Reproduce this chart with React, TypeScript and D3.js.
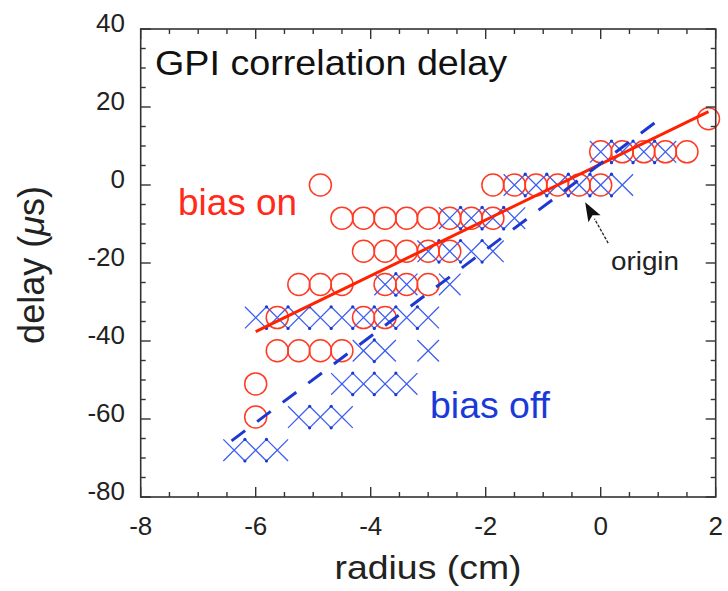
import React from "react";
import * as d3 from "d3";

// ---- data ----
// bias on: rows of [delay (µs), radii (cm)]
const biasOnRows: [number, number[]][] = [
  [17, [1.875]],
  [8.5, [0, 0.375, 0.75, 1.125, 1.5]],
  [0, [-4.875, -1.875, -1.5, -1.125, -0.75, -0.375, 0]],
  [-8.5, [-4.5, -4.125, -3.75, -3.375, -3.0, -2.625, -2.25, -1.875]],
  [-17, [-4.125, -3.75, -3.375, -3.0, -2.625]],
  [-25.5, [-5.25, -4.875, -4.5, -3.75, -3.375, -3.0]],
  [-34, [-5.625, -4.125, -3.75]],
  [-42.5, [-5.625, -5.25, -4.875, -4.5]],
  [-51, [-6.0]],
  [-59.5, [-6.0]],
];

// bias off
const biasOffRows: [number, number[]][] = [
  [8.5, [0, 0.375, 0.75, 1.125]],
  [0, [-1.5, -1.125, -0.75, -0.375, 0, 0.375]],
  [-8.5, [-2.625, -2.25, -1.875, -1.5]],
  [-17, [-3.0, -2.625, -2.25, -1.875]],
  [-25.5, [-3.75, -3.375, -2.625]],
  [-34, [-6.0, -5.625, -5.25, -4.875, -4.5, -4.125, -3.75, -3.375, -3.0]],
  [-42.5, [-4.125, -3.75, -3.0]],
  [-51, [-4.5, -4.125, -3.75, -3.375]],
  [-59.5, [-5.25, -4.875, -4.5]],
  [-68, [-6.375, -6.0, -5.625]],
];

// linear fits
const biasOnFit: [number, number][] = [
  [-6.0, -37.6],
  [1.875, 18.8],
];
const biasOffFit: [number, number][] = [
  [-6.42, -65.6],
  [1.0, 16.6],
];

const xMajorTicks = [-8, -6, -4, -2, 0, 2];
const yMajorTicks = [40, 20, 0, -20, -40, -60, -80];

// origin annotation (data coordinates)
const originTip: [number, number] = [-0.27, -4.4];
const originTail: [number, number] = [0.13, -14.9];

const W = 728;
const H = 591;
const FONT = "'Liberation Sans', Arial, Helvetica, sans-serif";
const RED = "#ff3a24";
const REDLINE = "#ff2200";
const BLUE = "#3d5ef0";
const BLUEDASH = "#1c38d0";

export default function App() {
  const x = d3.scaleLinear().domain([-8, 2]).range([140.7, 715.7]);
  const y = d3.scaleLinear().domain([-80, 40]).range([497, 29]);
  const [x0, x1] = x.range();
  const [y0, y1] = y.range(); // y0 bottom, y1 top

  const xMinor = d3.range(-8, 2.0001, 0.5);
  const yMinor = d3.range(-80, 40.0001, 5);
  const isMajorX = (v: number) => Math.abs(v / 2 - Math.round(v / 2)) < 1e-6;
  const isMajorY = (v: number) => Math.abs(v / 20 - Math.round(v / 20)) < 1e-6;

  const line = d3
    .line<[number, number]>()
    .x((d) => x(d[0]))
    .y((d) => y(d[1]));

  const on = biasOnRows.flatMap(([dy, rs]) => rs.map((r) => [r, dy] as [number, number]));
  const off = biasOffRows.flatMap(([dy, rs]) => rs.map((r) => [r, dy] as [number, number]));

  const R = 11;
  const XS = 10.8;

  // arrow
  const tx = x(originTip[0]);
  const ty = y(originTip[1]);
  const sx = x(originTail[0]);
  const sy = y(originTail[1]);
  const len = Math.hypot(tx - sx, ty - sy);
  const ux = (tx - sx) / len;
  const uy = (ty - sy) / len;
  const hl = 19;
  const hw = 7;
  const bx = tx - ux * hl;
  const by = ty - uy * hl;
  const head = [
    [tx, ty],
    [bx - uy * hw, by + ux * hw],
    [bx + ux * 4, by + uy * 4],
    [bx + uy * hw, by - ux * hw],
  ]
    .map((p) => p.join(","))
    .join(" ");

  return (
    <svg
      width={W}
      height={H}
      viewBox={`0 0 ${W} ${H}`}
      style={{ position: "absolute", left: 0, top: 0, background: "#fff" }}
    >
      <rect x={0} y={0} width={W} height={H} fill="#fff" />

      {/* markers: circles */}
      <g fill="none" stroke={RED} strokeWidth={1.5}>
        {on.map((d, i) => (
          <circle key={i} cx={x(d[0])} cy={y(d[1])} r={R} />
        ))}
      </g>
      {/* markers: crosses */}
      <g stroke={BLUE} strokeWidth={1.3} fill="none">
        {off.map((d, i) => {
          const cx = x(d[0]);
          const cy = y(d[1]);
          return (
            <path
              key={i}
              d={`M${cx - XS},${cy - XS}L${cx + XS},${cy + XS}M${cx - XS},${cy + XS}L${cx + XS},${cy - XS}`}
            />
          );
        })}
      </g>
      {/* junction dots of touching crosses */}
      <g fill={BLUEDASH}>
        {biasOffRows.flatMap(([dy, rs], ri) =>
          rs.slice(1).flatMap((r, j) => {
            const prev = rs[j];
            if (Math.abs(r - prev - 0.375) > 1e-6) return [];
            const cx = (x(r) + x(prev)) / 2;
            return [
              <circle key={`t${ri}-${j}`} cx={cx} cy={y(dy) - XS} r={1.6} />,
              <circle key={`b${ri}-${j}`} cx={cx} cy={y(dy) + XS} r={1.6} />,
            ];
          })
        )}
      </g>

      {/* fits */}
      <path d={line(biasOnFit) || ""} stroke={REDLINE} strokeWidth={3} fill="none" />
      <path
        d={line(biasOffFit) || ""}
        stroke={BLUEDASH}
        strokeWidth={3}
        fill="none"
        strokeDasharray="17 15"
      />

      {/* frame */}
      <rect
        x={x0}
        y={y1}
        width={x1 - x0}
        height={y0 - y1}
        fill="none"
        stroke="#333"
        strokeWidth={1.6}
      />
      <g stroke="#333" strokeWidth={1.4}>
        {xMinor.map((v, i) => {
          const L = isMajorX(v) ? 10 : 5;
          const px = x(v);
          return (
            <g key={`x${i}`}>
              <line x1={px} x2={px} y1={y0} y2={y0 - L} />
              <line x1={px} x2={px} y1={y1} y2={y1 + L} />
            </g>
          );
        })}
        {yMinor.map((v, i) => {
          const L = isMajorY(v) ? 10 : 5;
          const py = y(v);
          return (
            <g key={`y${i}`}>
              <line x1={x0} x2={x0 + L} y1={py} y2={py} />
              <line x1={x1} x2={x1 - L} y1={py} y2={py} />
            </g>
          );
        })}
      </g>

      {/* tick labels */}
      <g fontFamily={FONT} fontSize={26} fill="#222">
        {xMajorTicks.map((v) => (
          <text key={`xl${v}`} x={x(v)} y={535} textAnchor="middle">
            {v}
          </text>
        ))}
        {yMajorTicks.map((v) => (
          <text key={`yl${v}`} x={125} y={y(v) + 3} textAnchor="end">
            {v}
          </text>
        ))}
      </g>

      {/* axis titles */}
      <text
        x={428}
        y={579}
        textAnchor="middle"
        fontFamily={FONT}
        fontSize={34}
        fill="#222"
        textLength={187}
        lengthAdjust="spacingAndGlyphs"
      >
        radius (cm)
      </text>
      <text
        transform="translate(44,265) rotate(-90)"
        textAnchor="middle"
        fontFamily={FONT}
        fontSize={36}
        fill="#222"
      >
        delay (<tspan fontStyle="italic">μ</tspan>s)
      </text>

      {/* annotations */}
      <text
        x={155}
        y={75}
        fontFamily={FONT}
        fontSize={35}
        fill="#111"
        textLength={352}
        lengthAdjust="spacingAndGlyphs"
      >
        GPI correlation delay
      </text>
      <text
        x={178}
        y={215}
        fontFamily={FONT}
        fontSize={37}
        fill="#ff2a1a"
        textLength={119}
        lengthAdjust="spacingAndGlyphs"
      >
        bias on
      </text>
      <text
        x={430}
        y={418}
        fontFamily={FONT}
        fontSize={37}
        fill="#1a3ad8"
        textLength={120}
        lengthAdjust="spacingAndGlyphs"
      >
        bias off
      </text>
      <text
        x={611}
        y={270}
        fontFamily={FONT}
        fontSize={25}
        fill="#222"
        textLength={68}
        lengthAdjust="spacingAndGlyphs"
      >
        origin
      </text>
      <line
        x1={sx}
        y1={sy}
        x2={bx}
        y2={by}
        stroke="#222"
        strokeWidth={1.3}
        strokeDasharray="3 1.5"
      />
      <polygon points={head} fill="#111" />
    </svg>
  );
}
